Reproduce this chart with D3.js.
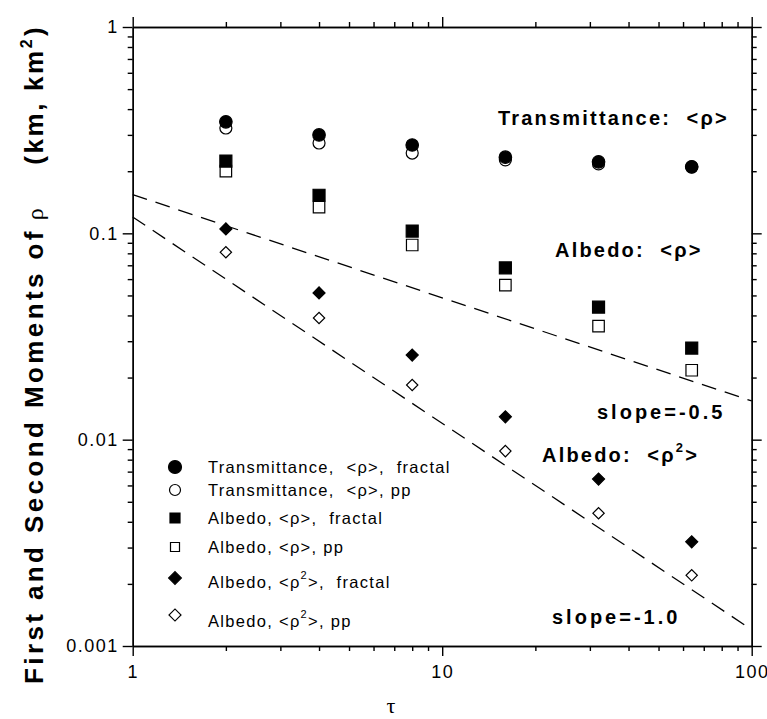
<!DOCTYPE html>
<html>
<head>
<meta charset="utf-8">
<script src="https://cdn.jsdelivr.net/npm/d3@7"></script>
<style>
  body { margin: 0; background: #fff; }
  svg { display: block; }
  .axis path, .axis line { stroke: #000; stroke-width: 1.4px; }
  .axis text { font-family: "Liberation Sans", Arial, sans-serif; font-size: 18px; letter-spacing: 1.5px; fill: #000; }
  .note { font-family: "Liberation Sans", Arial, sans-serif; font-weight: bold; font-size: 20px; letter-spacing: 2.2px; }
  .legend text { font-family: "Liberation Sans", Arial, sans-serif; font-size: 16.5px; letter-spacing: 1.3px; }
</style>
</head>
<body>
<div id="chart"></div>
<script>
// optical depth values
const tau = [2, 4, 8, 16, 32, 64];

// transmittance <rho>
const transFractal = [0.347, 0.300, 0.268, 0.234, 0.222, 0.210];
const transPP      = [0.324, 0.274, 0.245, 0.227, 0.217, 0.210];

// albedo <rho>
const albedoFractal = [0.224, 0.153, 0.1026, 0.068, 0.0439, 0.0278];
const albedoPP      = [0.200, 0.134, 0.0878, 0.0561, 0.0355, 0.0217];

// albedo <rho^2>
const albedo2Fractal = [0.105, 0.0514, 0.0257, 0.0129, 0.00644, 0.0032];
const albedo2PP      = [0.081, 0.0389, 0.0184, 0.0088, 0.0044, 0.0022];

// dashed reference lines, end points [tau, value]
const slopeHalf = [[1, 0.154], [100, 0.0154]];
const slopeOne  = [[1, 0.12], [100, 0.0012]];

const xMajor = [1, 10, 100];
const yMajor = [0.001, 0.01, 0.1, 1];
const yTickLabels = ["0.001", "0.01", "0.1", "1"];

const legendLabels = [
    ["Transmittance,  <ρ>,  fractal"],
    ["Transmittance,  <ρ>, pp"],
    ["Albedo, <ρ>,  fractal"],
    ["Albedo, <ρ>, pp"],
    ["Albedo, <ρ", "2", ">,  fractal"],
    ["Albedo, <ρ", "2", ">, pp"]
];

class momentsChart {
    constructor(parentElement) {
        this.parentElement = parentElement;
        this.initVis();
    }

    initVis() {
        let vis = this;

        vis.width = 767;
        vis.height = 719;

        vis.svg = d3.select("#" + vis.parentElement).append("svg")
            .attr("width", vis.width)
            .attr("height", vis.height);

        vis.x = d3.scaleLog().domain([1, 100]).range([132.7, 751.7]);
        vis.y = d3.scaleLog().domain([0.001, 1]).range([646, 27]);

        // minor ticks 2..9 of each decade
        let xMinor = [];
        [1, 10].forEach(d => { for (let k = 2; k < 10; k++) xMinor.push(d * k); });
        let yMinor = [];
        [0.001, 0.01, 0.1].forEach(d => { for (let k = 2; k < 10; k++) yMinor.push(d * k); });

        vis.drawAxes(xMinor, yMinor);
        vis.drawLines();
        vis.drawPoints();
        vis.drawNotes();
        vis.drawLegend();
    }

    drawAxes(xMinor, yMinor) {
        let vis = this;
        let x0 = vis.x.range()[0], x1 = vis.x.range()[1];
        let y0 = vis.y.range()[0], y1 = vis.y.range()[1];

        let sides = [
            {axis: d3.axisBottom(vis.x), tr: "translate(0," + y0 + ")", minor: xMinor, major: xMajor, labels: true, pad: 9},
            {axis: d3.axisTop(vis.x), tr: "translate(0," + y1 + ")", minor: xMinor, major: xMajor, labels: false, pad: 4},
            {axis: d3.axisLeft(vis.y), tr: "translate(" + x0 + ",0)", minor: yMinor, major: yMajor, labels: true, pad: 4},
            {axis: d3.axisRight(vis.y), tr: "translate(" + x1 + ",0)", minor: yMinor, major: yMajor, labels: false, pad: 4}
        ];

        sides.forEach(s => {
            vis.svg.append("g").attr("class", "axis").attr("transform", s.tr)
                .call(s.axis.tickValues(s.minor).tickSize(5).tickSizeOuter(0).tickFormat(""));
            let g = vis.svg.append("g").attr("class", "axis").attr("transform", s.tr);
            let ax = s.axis;
            ax.tickValues(s.major).tickSize(10).tickSizeOuter(0).tickPadding(s.pad);
            if (s.labels) {
                if (s.major === yMajor) ax.tickFormat((d, i) => yTickLabels[i]);
                else ax.tickFormat(d3.format("d"));
            } else {
                ax.tickFormat("");
            }
            g.call(ax);
        });

        // y axis title
        let title = vis.svg.append("text")
            .attr("transform", "translate(43,684) rotate(-90)")
            .style("font-family", "Liberation Sans, Arial, sans-serif")
            .style("font-size", "26px")
            .style("letter-spacing", "3.4px")
            .style("font-weight", "bold");
        title.append("tspan").text("First and Second Moments of");
        title.append("tspan").attr("dx", 8).style("font-weight", "normal")
            .style("font-family", "Liberation Serif, Times New Roman, serif")
            .style("font-size", "24px").text("ρ");
        title.append("tspan").attr("dx", 40).style("letter-spacing", "2.6px").text("(km, km");
        title.append("tspan").attr("dy", -11).style("font-size", "16px").text("2");
        title.append("tspan").attr("dy", 11).text(")");

        vis.svg.append("text")
            .attr("x", 391).attr("y", 713)
            .attr("text-anchor", "middle")
            .style("font-family", "Liberation Serif, Times New Roman, serif")
            .style("font-size", "22px")
            .text("τ");
    }

    drawLines() {
        let vis = this;
        let line = d3.line().x(d => vis.x(d[0])).y(d => vis.y(d[1]));
        [slopeHalf, slopeOne].forEach(pts => {
            vis.svg.append("path")
                .attr("d", line(pts))
                .attr("fill", "none")
                .attr("stroke", "#000")
                .attr("stroke-width", 1.3)
                .attr("stroke-dasharray", "15,9");
        });
    }

    marker(sel, type, filled, size) {
        let path;
        if (type === "circle") path = d3.symbol().type(d3.symbolCircle).size(Math.PI * size * size / 4);
        else path = d3.symbol().type(d3.symbolSquare).size(size * size);
        sel.attr("d", path())
            .attr("fill", filled ? "#000" : "#fff")
            .attr("stroke", "#000")
            .attr("stroke-width", 1.2);
    }

    drawPoints() {
        let vis = this;
        // open (pp) symbols first so the fractal ones sit on top
        let series = [
            {vals: transPP, type: "circle", filled: false, size: 12, rot: 0},
            {vals: transFractal, type: "circle", filled: true, size: 12.5, rot: 0},
            {vals: albedoPP, type: "square", filled: false, size: 11.5, rot: 0},
            {vals: albedoFractal, type: "square", filled: true, size: 12, rot: 0},
            {vals: albedo2PP, type: "square", filled: false, size: 8, rot: 45},
            {vals: albedo2Fractal, type: "square", filled: true, size: 8.5, rot: 45}
        ];
        series.forEach(s => {
            vis.svg.append("g").selectAll("path")
                .data(tau.map((t, i) => [t, s.vals[i]]))
                .enter().append("path")
                .attr("transform", d => "translate(" + vis.x(d[0]) + "," + vis.y(d[1]) + ") rotate(" + s.rot + ")")
                .call(sel => vis.marker(sel, s.type, s.filled, s.size));
        });
    }

    drawNotes() {
        let vis = this;
        vis.svg.append("text").attr("class", "note").attr("x", 498).attr("y", 125)
            .attr("xml:space", "preserve").text("Transmittance:  <ρ>");
        vis.svg.append("text").attr("class", "note").attr("x", 555).attr("y", 257)
            .attr("xml:space", "preserve").text("Albedo:  <ρ>");
        vis.svg.append("text").attr("class", "note").attr("x", 597).attr("y", 419)
            .style("letter-spacing", "3px").text("slope=-0.5");
        let a2 = vis.svg.append("text").attr("class", "note").attr("x", 542).attr("y", 462)
            .attr("xml:space", "preserve");
        a2.append("tspan").text("Albedo:  <ρ");
        a2.append("tspan").attr("dy", -10).style("font-size", "13px").text("2");
        a2.append("tspan").attr("dy", 10).text(">");
        vis.svg.append("text").attr("class", "note").attr("x", 552).attr("y", 624)
            .style("letter-spacing", "3px").text("slope=-1.0");
    }

    drawLegend() {
        let vis = this;
        let rowMark = [467, 490, 518, 547, 578, 615];
        let rowText = [473, 496, 524, 553, 588, 627];
        let types = [
            ["circle", true, 13, 0], ["circle", false, 11, 0],
            ["square", true, 10, 0], ["square", false, 9, 0],
            ["square", true, 9, 45], ["square", false, 8.5, 45]
        ];
        let g = vis.svg.append("g").attr("class", "legend");
        legendLabels.forEach((lab, i) => {
            let t = types[i];
            g.append("path")
                .attr("transform", "translate(175," + rowMark[i] + ") rotate(" + t[3] + ")")
                .call(sel => vis.marker(sel, t[0], t[1], t[2]));
            let txt = g.append("text").attr("x", 208).attr("y", rowText[i])
                .attr("xml:space", "preserve");
            txt.append("tspan").text(lab[0]);
            if (lab.length > 1) {
                txt.append("tspan").attr("dy", -9).style("font-size", "11px").text(lab[1]);
                txt.append("tspan").attr("dy", 9).text(lab[2]);
            }
        });
    }
}

new momentsChart("chart");
</script>
</body>
</html>
